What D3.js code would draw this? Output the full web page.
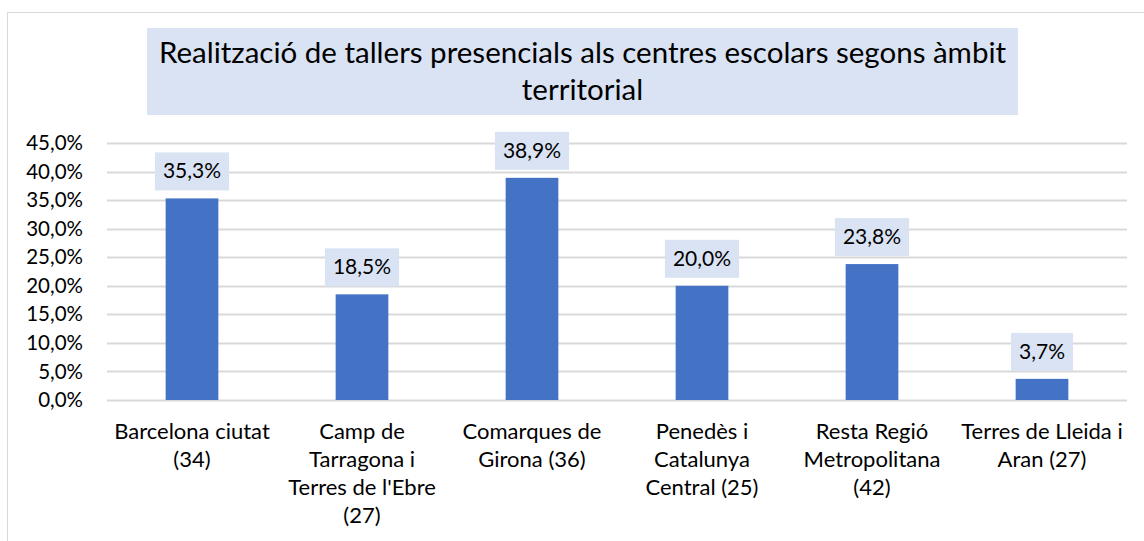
<!DOCTYPE html>
<html>
<head>
<meta charset="utf-8">
<script src="https://cdn.jsdelivr.net/npm/d3@7"></script>
<style>
  body { margin: 0; background: #fff; }
  svg { font-family: Lato, "Open Sans", sans-serif; }
</style>
</head>
<body>
<div class="canvas"></div>
<script>
// Chart data
const categories = [
    'Barcelona ciutat\n(34)',
    'Camp de\nTarragona i\nTerres de l\'Ebre\n(27)',
    'Comarques de\nGirona (36)',
    'Penedès i\nCatalunya\nCentral (25)',
    'Resta Regió\nMetropolitana\n(42)',
    'Terres de Lleida i\nAran (27)'
];
const values = [35.3, 18.5, 38.9, 20.0, 23.8, 3.7];
const yTicks = [0, 5, 10, 15, 20, 25, 30, 35, 40, 45];
const titleLines = ['Realització de tallers presencials als centres escolars segons àmbit', 'territorial'];

const width = 1144, height = 541;
const fmt = v => v.toFixed(1).replace('.', ',') + '%';

const svg = d3.select('.canvas')
                .append('svg')
                .attr('width', width)
                .attr('height', height);

// outer chart border
svg.append('rect')
    .attr('x', 7.5).attr('y', 12.5)
    .attr('width', width + 10).attr('height', height + 10)
    .attr('fill', 'none')
    .attr('stroke', '#d9d9d9');

// plot area
const margin = {top: 143, left: 107, right: 1127, bottom: 400};

const x = d3.scaleBand()
            .domain(categories)
            .range([margin.left, margin.right])
            .paddingInner(0.69)
            .paddingOuter(0.345);

const y = d3.scaleLinear()
            .domain([0, 45])
            .range([margin.bottom, margin.top]);

// gridlines
svg.append('g')
    .selectAll('line')
    .data(yTicks)
    .enter()
    .append('line')
    .attr('x1', margin.left)
    .attr('x2', margin.right)
    .attr('y1', d => Math.round(y(d)) + 0.5)
    .attr('y2', d => Math.round(y(d)) + 0.5)
    .attr('stroke', '#d9d9d9')
    .attr('stroke-width', 2);

// y axis labels
const yAxis = d3.axisLeft(y)
                .tickValues(yTicks)
                .tickSize(0)
                .tickPadding(0)
                .tickFormat(d => fmt(d));

const yAxisGroup = svg.append('g')
                      .attr('transform', `translate(83, 0)`)
                      .call(yAxis);
yAxisGroup.select('.domain').remove();
yAxisGroup.selectAll('text')
            .attr('font-size', 20.5)
            .attr('font-family', 'Lato, sans-serif')
            .attr('fill', '#000');

// bars
svg.append('g')
    .selectAll('rect')
    .data(values)
    .enter()
    .append('rect')
    .attr('x', (d, i) => x(categories[i]))
    .attr('y', d => y(d))
    .attr('width', x.bandwidth())
    .attr('height', d => y(0) - y(d))
    .attr('fill', '#4472c4');

// data labels with box
const labels = svg.append('g')
                  .selectAll('g')
                  .data(values)
                  .enter()
                  .append('g')
                  .attr('transform', (d, i) => `translate(${x(categories[i]) + x.bandwidth() / 2}, ${y(d) - 8})`);

labels.append('rect').attr('fill', '#dae3f3');
labels.append('text')
    .attr('text-anchor', 'middle')
    .attr('y', -12)
    .attr('font-size', 21)
    .attr('fill', '#000')
    .text(d => fmt(d));
labels.each(function() {
    const g = d3.select(this);
    const bb = g.select('text').node().getBBox();
    g.select('rect')
        .attr('x', -bb.width / 2 - 8)
        .attr('y', -38)
        .attr('width', bb.width + 16)
        .attr('height', 38);
});

// x axis category labels
const xLabels = svg.append('g')
                   .selectAll('text')
                   .data(categories)
                   .enter()
                   .append('text')
                   .attr('text-anchor', 'middle')
                   .attr('font-size', 22)
                   .attr('fill', '#000')
                   .attr('transform', d => `translate(${x(d) + x.bandwidth() / 2}, 439)`);
xLabels.selectAll('tspan')
    .data(d => d.split('\n'))
    .enter()
    .append('tspan')
    .attr('x', 0)
    .attr('y', (d, i) => i * 28)
    .text(d => d);

// title
svg.append('rect')
    .attr('x', 147).attr('y', 28)
    .attr('width', 1018 - 147).attr('height', 87)
    .attr('fill', '#dae3f3');

svg.append('text')
    .attr('text-anchor', 'middle')
    .attr('font-size', 29.5)
    .attr('fill', '#000')
    .selectAll('tspan')
    .data(titleLines)
    .enter()
    .append('tspan')
    .attr('x', 582.5)
    .attr('y', (d, i) => 63 + i * 37)
    .text(d => d);
</script>
</body>
</html>
